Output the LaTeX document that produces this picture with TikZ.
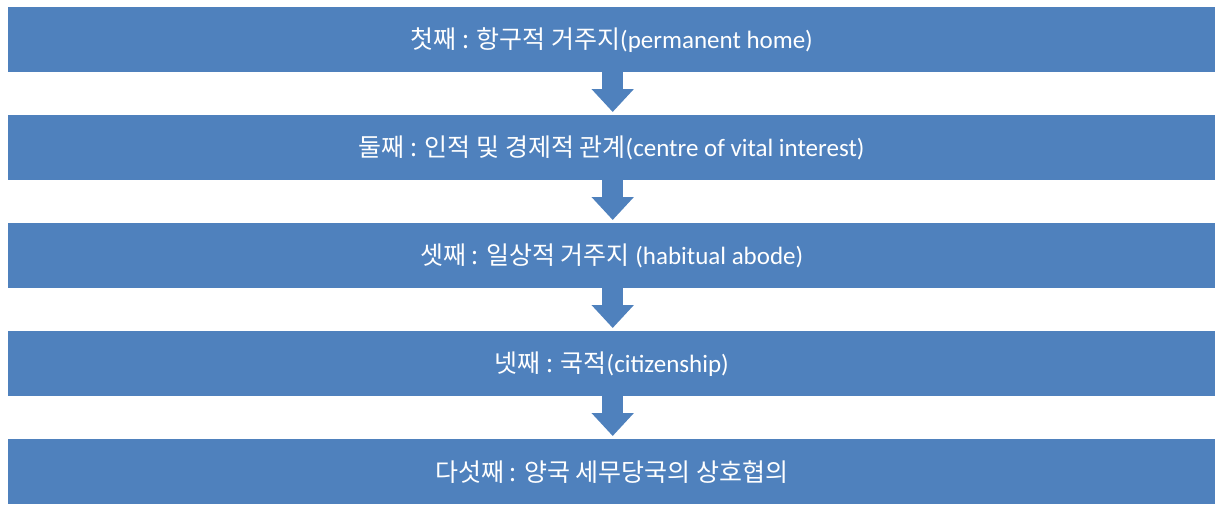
\documentclass[tikz,border=0pt]{standalone}
\usepackage{fontspec}
\setmainfont{Carlito}
\newfontfamily\kr{Noto Sans CJK KR}
\usetikzlibrary{calc,arrows.meta}
\definecolor{boxblue}{HTML}{4F81BD}
\begin{document}
\begin{tikzpicture}[x=1pt,y=-1pt,
  stepbox/.style={fill=boxblue, draw=none, minimum width=1207pt, minimum height=65pt,
    inner sep=0pt, anchor=north west, text=white, font=\fontsize{25}{30}\selectfont},
  blockarrow/.style={draw=boxblue, line width=21pt, line cap=butt,
    -{Triangle[width=41pt,length=23pt]}}]
\useasboundingbox (0,0) rectangle (1215,504);
\node[stepbox] (b1) at (8,7)   {{\kr 첫째 : 항구적 거주지}(permanent home)};
\node[stepbox] (b2) at (8,115) {{\kr 둘째 : 인적 및 경제적 관계}(centre of vital interest)};
\node[stepbox] (b3) at (8,223) {{\kr 셋째 : 일상적 거주지} (habitual abode)};
\node[stepbox] (b4) at (8,331) {{\kr 넷째 : 국적}(citizenship)};
\node[stepbox] (b5) at (8,439) {{\kr 다섯째 : 양국 세무당국의 상호협의}};
\foreach \a/\b in {b1/b2,b2/b3,b3/b4,b4/b5}
  \draw[blockarrow] ($(\a.south)+(1,0)$) -- ($(\b.north)+(1,-3)$);
\end{tikzpicture}
\end{document}
